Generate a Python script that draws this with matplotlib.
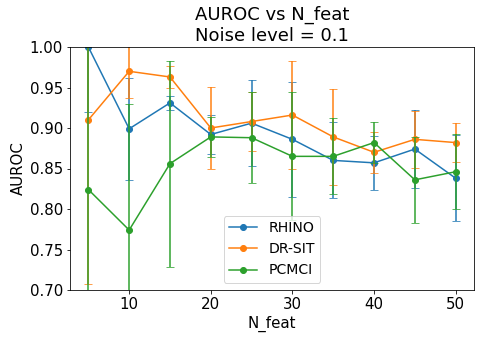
import matplotlib
matplotlib.use('Agg')
import matplotlib.pyplot as plt
import numpy as np

# data
n_feat = [5, 10, 15, 20, 25, 30, 35, 40, 45, 50]

rhino_mean = [1.000, 0.899, 0.931, 0.892, 0.906, 0.886, 0.860, 0.857, 0.874, 0.838]
rhino_err = [0.080, 0.063, 0.009, 0.024, 0.053, 0.071, 0.047, 0.033, 0.048, 0.053]

drsit_mean = [0.910, 0.970, 0.963, 0.900, 0.908, 0.916, 0.889, 0.870, 0.886, 0.882]
drsit_err = [0.202, 0.033, 0.014, 0.051, 0.037, 0.067, 0.059, 0.025, 0.035, 0.024]

pcmci_mean = [0.824, 0.774, 0.856, 0.889, 0.888, 0.865, 0.865, 0.882, 0.836, 0.846]
pcmci_err = [0.250, 0.156, 0.127, 0.025, 0.056, 0.079, 0.047, 0.025, 0.053, 0.046]

series = [
    ('RHINO', rhino_mean, rhino_err, '#1f77b4'),
    ('DR-SIT', drsit_mean, drsit_err, '#ff7f0e'),
    ('PCMCI', pcmci_mean, pcmci_err, '#2ca02c'),
]

plt.rcParams['font.size'] = 15

fig = plt.figure(figsize=(483 / 72, 339 / 72), dpi=72)
ax = fig.add_axes([70 / 483, 49 / 339, 404 / 483, 243 / 339])

for name, mean, err, color in series:
    ax.plot(n_feat, mean, marker='o', color=color, label=name, markersize=6)
    ax.errorbar(n_feat, mean, yerr=err, fmt='none', ecolor=color,
                elinewidth=2, capsize=4, alpha=0.75)

ax.set_ylim(0.70, 1.00)
ax.set_yticks(np.arange(0.70, 1.001, 0.05))
ax.yaxis.set_major_formatter(matplotlib.ticker.FormatStrFormatter('%.2f'))
ax.set_xticks([10, 20, 30, 40, 50])
ax.set_xlabel('N_feat')
ax.set_ylabel('AUROC')
ax.set_title('AUROC vs N_feat\nNoise level = 0.1', fontsize=18)
ax.legend(loc='lower center', fontsize=14)

fig.savefig('out.png', dpi=72)
